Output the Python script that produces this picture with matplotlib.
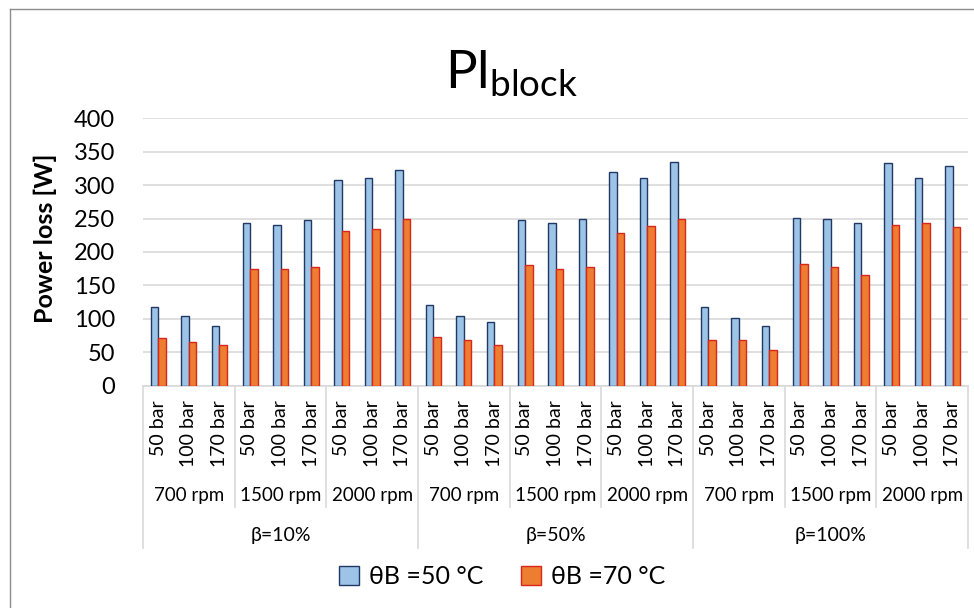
import matplotlib
matplotlib.use("Agg")
import matplotlib.pyplot as plt
from matplotlib.patches import Patch
from matplotlib.lines import Line2D
import numpy as np

plt.rcParams['font.family'] = ['Lato', 'DejaVu Sans']

# category levels
beta_labels = ['β=10%', 'β=50%', 'β=100%']
rpm_labels = ['700 rpm', '1500 rpm', '2000 rpm']
pressure_labels = ['50 bar', '100 bar', '170 bar']

# power loss [W], order: beta -> rpm -> pressure
loss_50C = [117, 105, 90, 244, 241, 248, 308, 310, 323,
            120, 105, 95, 248, 244, 250, 320, 311, 335,
            118, 102, 90, 251, 250, 243, 333, 311, 328]
loss_70C = [71, 66, 61, 175, 175, 177, 231, 234, 250,
            73, 69, 61, 180, 175, 177, 229, 239, 250,
            69, 68, 54, 182, 178, 165, 241, 243, 238]
series_names = ['θB =50 °C', 'θB =70 °C']

W, H = 974, 608
fig = plt.figure(figsize=(W / 100, H / 100), dpi=100)
ax = fig.add_axes([143 / W, (H - 385.7) / H, 825 / W, 267.4 / H])

n = len(loss_50C)
x = np.arange(n)
bw = 0.245
blue, blue_edge = '#9DC3E6', '#203864'
orange, orange_edge = '#ED7D31', '#D8261B'
ax.bar(x - 0.12, loss_50C, bw, color=blue, edgecolor=blue_edge, linewidth=1, zorder=3)
ax.bar(x + 0.125, loss_70C, bw, color=orange, edgecolor=orange_edge, linewidth=1, zorder=3)

ax.set_xlim(-0.5, n - 0.5)
ax.set_ylim(0, 400)
ax.set_yticks(np.arange(0, 401, 50))
ax.tick_params(axis='y', length=0, pad=20, labelsize=17)
ax.set_xticks([])
ax.grid(axis='y', color='#d9d9d9', linewidth=1.2, zorder=0)
for s in ['top', 'right', 'left']:
    ax.spines[s].set_visible(False)
ax.spines['bottom'].set_color('#d9d9d9')
ax.spines['bottom'].set_linewidth(1.2)

# multi level category axis
tr = ax.get_xaxis_transform()
def yfrac(ypix):
    return (385.7 - ypix) / 267.4

sep_col = '#d9d9d9'
k = 0
for bi, b in enumerate(beta_labels):
    for ri, r in enumerate(rpm_labels):
        for p in pressure_labels:
            ax.text(k, yfrac(400), p, transform=tr, rotation=90, ha='center',
                    va='top', fontsize=14)
            k += 1
        ax.text(k - 2, yfrac(495), r, transform=tr, ha='center', va='center',
                fontsize=13.5)
    ax.text(k - 5, yfrac(535), b, transform=tr, ha='center', va='center',
            fontsize=14)

for i in range(0, n + 1, 3):
    bottom = yfrac(548) if i % 9 == 0 else yfrac(507)
    ax.plot([i - 0.5, i - 0.5], [0, bottom], transform=tr, color=sep_col,
            linewidth=1.2, clip_on=False)

fig.text(512 / W, 1 - 74 / H, r'$\mathregular{Pl_{block}}$', ha='center',
         va='center', fontsize=38)
fig.text(45 / W, 1 - 238 / H, 'Power loss [W]', rotation=90, ha='center',
         va='center', fontsize=18, fontweight='bold')

handles = [Patch(facecolor=blue, edgecolor=blue_edge, label=series_names[0]),
           Patch(facecolor=orange, edgecolor=orange_edge, label=series_names[1])]
fig.legend(handles=handles, loc='center', bbox_to_anchor=(502 / W, 1 - 577 / H),
           ncol=2, frameon=False, fontsize=18, handlelength=0.8, handleheight=0.8,
           handletextpad=0.4, columnspacing=1.5)

# chart frame
fig.add_artist(Line2D([9.5 / W, 9.5 / W], [0, 1 - 9 / H], color='#8c8c8c', linewidth=1))
fig.add_artist(Line2D([9.5 / W, 1], [1 - 9 / H, 1 - 9 / H], color='#8c8c8c', linewidth=1))

fig.savefig('out.png', dpi=100)
